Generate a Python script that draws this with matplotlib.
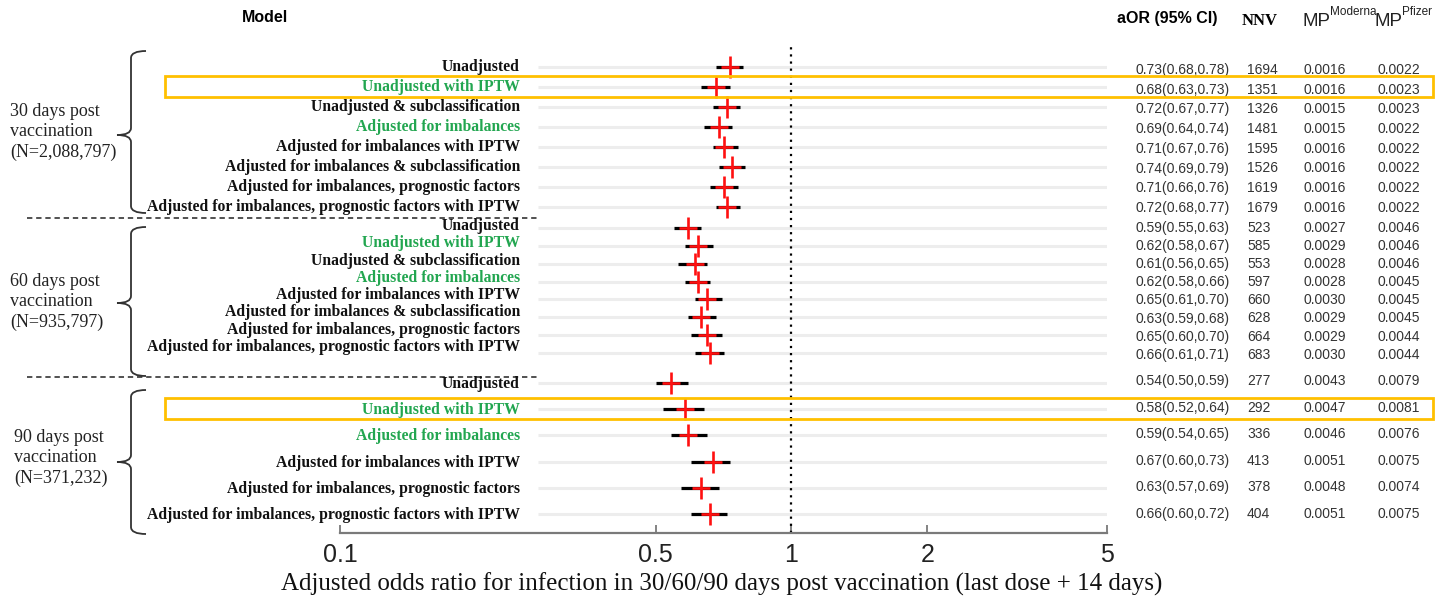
import numpy as np
import matplotlib
matplotlib.use("Agg")
import matplotlib.pyplot as plt
import matplotlib.transforms as mtrans
from matplotlib.path import Path
from matplotlib.patches import PathPatch, Rectangle
from matplotlib.lines import Line2D
from matplotlib.ticker import NullLocator

W, H = 1449, 601

# ---- data -------------------------------------------------------------------------------
models_8 = ["Unadjusted", "Unadjusted with IPTW", "Unadjusted & subclassification",
            "Adjusted for imbalances", "Adjusted for imbalances with IPTW",
            "Adjusted for imbalances & subclassification",
            "Adjusted for imbalances, prognostic factors",
            "Adjusted for imbalances, prognostic factors with IPTW"]
models_6 = ["Unadjusted", "Unadjusted with IPTW", "Adjusted for imbalances",
            "Adjusted for imbalances with IPTW",
            "Adjusted for imbalances, prognostic factors",
            "Adjusted for imbalances, prognostic factors with IPTW"]
green_models = ["Unadjusted with IPTW", "Adjusted for imbalances"]
group_names = ["30 days post\nvaccination\n(N=2,088,797)",
               "60 days post\nvaccination\n(N=935,797)",
               "90 days post\nvaccination\n(N=371,232)"]

aor_30 = [0.73, 0.68, 0.72, 0.69, 0.71, 0.74, 0.71, 0.72]
lo_30 = [0.68, 0.63, 0.67, 0.64, 0.67, 0.69, 0.66, 0.68]
hi_30 = [0.78, 0.73, 0.77, 0.74, 0.76, 0.79, 0.76, 0.77]
nnv_30 = [1694, 1351, 1326, 1481, 1595, 1526, 1619, 1679]
mp_mod_30 = ["0.0016", "0.0016", "0.0015", "0.0015", "0.0016", "0.0016", "0.0016", "0.0016"]
mp_pfz_30 = ["0.0022", "0.0023", "0.0023", "0.0022", "0.0022", "0.0022", "0.0022", "0.0022"]

aor_60 = [0.59, 0.62, 0.61, 0.62, 0.65, 0.63, 0.65, 0.66]
lo_60 = [0.55, 0.58, 0.56, 0.58, 0.61, 0.59, 0.60, 0.61]
hi_60 = [0.63, 0.67, 0.65, 0.66, 0.70, 0.68, 0.70, 0.71]
nnv_60 = [523, 585, 553, 597, 660, 628, 664, 683]
mp_mod_60 = ["0.0027", "0.0029", "0.0028", "0.0028", "0.0030", "0.0029", "0.0029", "0.0030"]
mp_pfz_60 = ["0.0046", "0.0046", "0.0046", "0.0045", "0.0045", "0.0045", "0.0044", "0.0044"]

aor_90 = [0.54, 0.58, 0.59, 0.67, 0.63, 0.66]
lo_90 = [0.50, 0.52, 0.54, 0.60, 0.57, 0.60]
hi_90 = [0.59, 0.64, 0.65, 0.73, 0.69, 0.72]
nnv_90 = [277, 292, 336, 413, 378, 404]
mp_mod_90 = ["0.0043", "0.0047", "0.0046", "0.0051", "0.0048", "0.0051"]
mp_pfz_90 = ["0.0079", "0.0081", "0.0076", "0.0075", "0.0074", "0.0075"]

xticks = [0.1, 0.5, 1, 2, 5]
xtick_labels = ["0.1", "0.5", "1", "2", "5"]
highlight = [(0, 1), (2, 1)]      # (group, row) boxed in orange

groups = [
    dict(models=models_8, aor=aor_30, lo=lo_30, hi=hi_30, nnv=nnv_30, mod=mp_mod_30, pfz=mp_pfz_30),
    dict(models=models_8, aor=aor_60, lo=lo_60, hi=hi_60, nnv=nnv_60, mod=mp_mod_60, pfz=mp_pfz_60),
    dict(models=models_6, aor=aor_90, lo=lo_90, hi=hi_90, nnv=nnv_90, mod=mp_mod_90, pfz=mp_pfz_90),
]

# ---- layout (pixel units of the 1449x601 canvas) -------------------------------------------
ROW_START, ROW_STEP = [67, 228, 383], [20, 17.86, 26.2]
LAB_START, LAB_STEP = [67, 226, 384], [20, 17.3, 26.2]
TAB_START, TAB_STEP = [70, 228, 381], [19.7, 18.1, 26.6]
GROUP_TXT = [(10, 132), (10, 302), (14, 458)]
BRACES = [(131, 51, 135, 213), (131, 227, 303, 376), (131, 390, 462, 534)]
SEPS = [218, 377]
GREEN = "#22a650"; ORANGE = "#FFC000"; RED = "#ff1010"
SERIF = "Liberation Serif"; SANS = "Liberation Sans"

fig = plt.figure(figsize=(W / 100, H / 100), dpi=100)
fig.patch.set_facecolor("white")
PX = mtrans.Affine2D().scale(1 / W, -1 / H).translate(0, 1) + fig.transFigure

AX_L, AX_R, AX_T, AX_B = 340, 1107, 40, 533
ax = fig.add_axes([AX_L / W, 1 - AX_B / H, (AX_R - AX_L) / W, (AX_B - AX_T) / H])
ax.set_xscale("log")
ax.set_xlim(0.1, 5)
ax.set_ylim(AX_B, AX_T)          # y data == canvas pixel rows
ax.patch.set_alpha(0)

for gi, g in enumerate(groups):
    n = len(g["models"])
    ys = ROW_START[gi] + ROW_STEP[gi] * np.arange(n)
    ax.hlines(ys, 0.275, 5, color="#ededed", lw=2.2, zorder=1)
    ax.hlines(ys, g["lo"], g["hi"], color="black", lw=2.3, zorder=3)
    ax.plot(g["aor"], ys, "|", ms=16, mew=1.9, color=RED, zorder=4)
    ax.plot(g["aor"], ys, "_", ms=13, mew=1.9, color=RED, zorder=4)

    ly = LAB_START[gi] + LAB_STEP[gi] * np.arange(n)
    for y, m in zip(ly, g["models"]):
        fig.text(520, y, m, transform=PX, ha="right", va="center", family=SERIF,
                 weight="bold", size=11.3, color=GREEN if m in green_models else "#111")

    ty = TAB_START[gi] + TAB_STEP[gi] * np.arange(n)
    for y, a, l, h, nn, mo, pf in zip(ty, g["aor"], g["lo"], g["hi"], g["nnv"], g["mod"], g["pfz"]):
        kw = dict(transform=PX, va="center", ha="left", family=SANS, size=10, color="#333")
        fig.text(1135, y, f"{a:.2f}({l:.2f},{h:.2f})", **kw)
        fig.text(1247, y, str(nn), **kw)
        fig.text(1303, y, mo, **kw)
        fig.text(1377, y, pf, **kw)

    gx, gy = GROUP_TXT[gi]
    fig.text(gx, gy, group_names[gi], transform=PX, ha="left", va="center", family=SERIF,
             size=13, linespacing=1.25, color="#222")

# reference line at OR = 1
ax.axvline(1, ymin=0, ymax=(AX_B - 47) / (AX_B - AX_T), color="black", lw=1.6,
           ls=(0, (1, 2.2)), zorder=2)

for s in ("top", "left", "right"):
    ax.spines[s].set_visible(False)
ax.spines["bottom"].set_color("#7a7a7a")
ax.spines["bottom"].set_linewidth(1.6)
ax.set_yticks([])
ax.set_xticks(xticks)
ax.set_xticklabels(xtick_labels, family=SANS)
ax.xaxis.set_minor_locator(NullLocator())
ax.tick_params(axis="x", direction="in", length=6, width=1.3, color="#7a7a7a",
               labelsize=18, pad=7, labelcolor="#222")

fig.text(722, 584, "Adjusted odds ratio for infection in 30/60/90 days post vaccination "
         "(last dose + 14 days)", transform=PX, ha="center", va="center", family=SERIF,
         size=18, color="#111")

# column headers
fig.text(265, 18, "Model", transform=PX, ha="center", va="center", family=SANS, weight="bold", size=11.5)
fig.text(1117, 19, "aOR (95% CI)", transform=PX, ha="left", va="center", family=SANS, weight="bold", size=11.5)
fig.text(1242, 21, "NNV", transform=PX, ha="left", va="center", family=SERIF, weight="bold", size=12)
fig.text(1303, 21, "MP", transform=PX, ha="left", va="center", family=SANS, size=13.5, color="#222")
fig.text(1330, 12, "Moderna", transform=PX, ha="left", va="center", family=SANS, size=8.5, color="#222")
fig.text(1375, 21, "MP", transform=PX, ha="left", va="center", family=SANS, size=13.5, color="#222")
fig.text(1402, 12, "Pfizer", transform=PX, ha="left", va="center", family=SANS, size=8.5, color="#222")


def brace(x, top, mid, bot, hook=15, tip=14, r=7):
    verts = [(x + hook, top), (x, top), (x, top + r),
             (x, mid - r), (x, mid), (x - tip, mid),
             (x, mid), (x, mid + r),
             (x, bot - r), (x, bot), (x + hook, bot)]
    codes = [Path.MOVETO, Path.CURVE3, Path.CURVE3,
             Path.LINETO, Path.CURVE3, Path.CURVE3,
             Path.CURVE3, Path.CURVE3,
             Path.LINETO, Path.CURVE3, Path.CURVE3]
    fig.add_artist(PathPatch(Path(verts, codes), fc="none", ec="#333", lw=1.3, transform=PX))


for b in BRACES:
    brace(*b)
for y in SEPS:
    fig.add_artist(Line2D([27, 538], [y, y], transform=PX, color="#222", lw=1.1, ls=(0, (3.5, 2.5))))

for gi, ri in highlight:
    yc = ROW_START[gi] + ROW_STEP[gi] * ri - 1
    fig.add_artist(Rectangle((165, yc - 10.5), 1268, 21, transform=PX, fill=False,
                             ec=ORANGE, lw=2.0, zorder=10))

fig.savefig("out.png", dpi=100)
